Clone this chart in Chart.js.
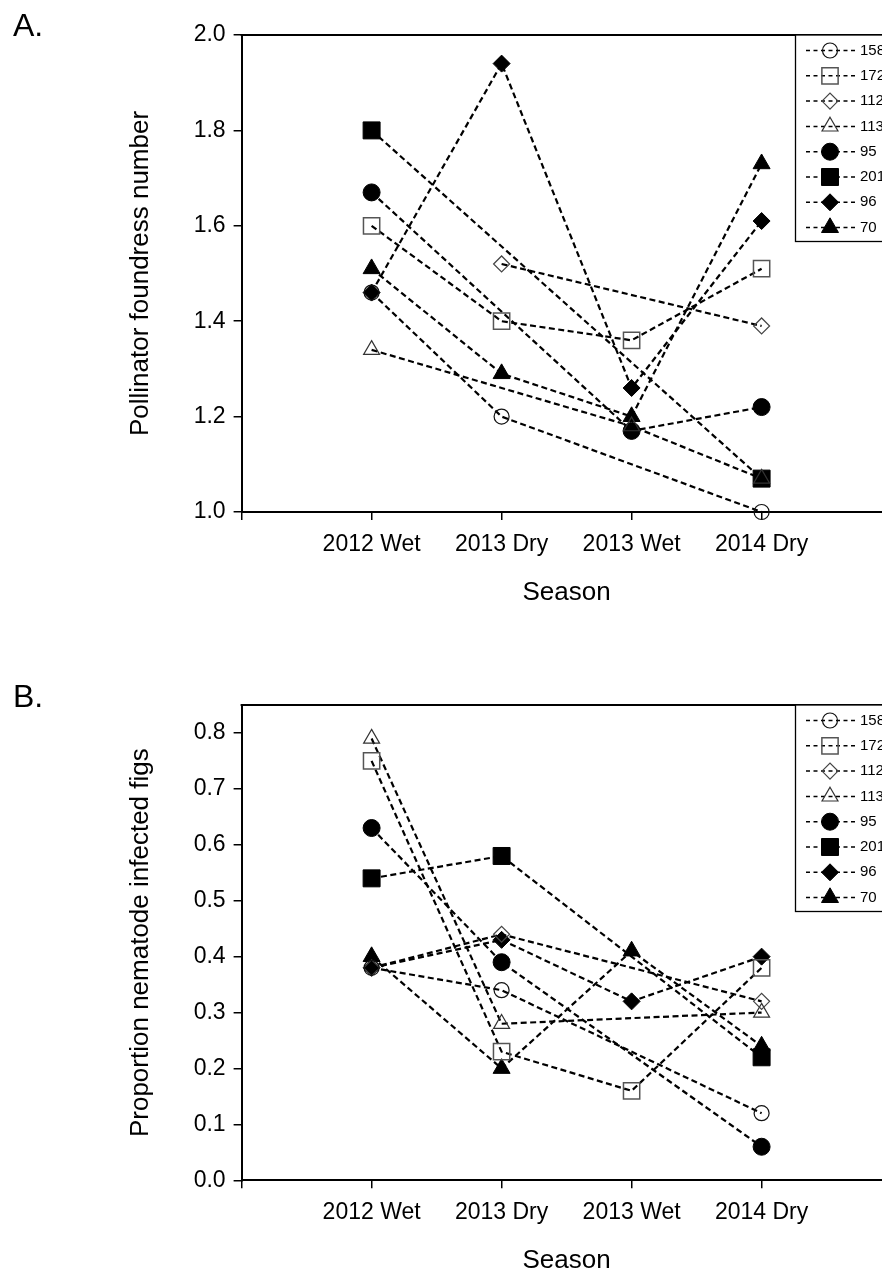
<!DOCTYPE html>
<html>
<head>
<meta charset="utf-8">
<title>Pollinator foundress number / nematode infected figs by season</title>
<script src="https://cdn.jsdelivr.net/npm/chart.js@4/dist/chart.umd.min.js"></script>
<style>
    html, body {
        margin: 0;
        padding: 0;
        background: #fff;
    }
    body {
        position: relative;
        width: 882px;
        height: 1274px;
        overflow: hidden;
        font-family: "Liberation Sans", Arial, Helvetica, sans-serif;
    }
    canvas {
        position: absolute;
        left: 0;
    }
    .panel-label {
        position: absolute;
        left: 13px;
        font-size: 32px;
        line-height: 32px;
        color: #000;
    }
</style>
</head>
<body>
<canvas id="chartA" width="920" height="670" style="top:0"></canvas>
<canvas id="chartB" width="920" height="670" style="top:670px"></canvas>
<div class="panel-label" style="top:9px">A.</div>
<div class="panel-label" style="top:680px">B.</div>

<script>
// Seasons along the x axis (placed at 1..4 on a 0..5 axis)
const seasons = ['2012 Wet', '2013 Dry', '2013 Wet', '2014 Dry'];

// Tree / population ids, legend order
const trees = ['158', '172', '112', '113', '95', '201', '96', '70'];

// A. Pollinator foundress number (null = no sample that season)
const foundress158 = [1.46, 1.20, null, 1.00];
const foundress172 = [1.60, 1.40, 1.36, 1.51];
const foundress112 = [null, 1.52, null, 1.39];
const foundress113 = [1.34, null, 1.18, 1.07];
const foundress95  = [1.67, null, 1.17, 1.22];
const foundress201 = [1.80, null, null, 1.07];
const foundress96  = [1.46, 1.94, 1.26, 1.61];
const foundress70  = [1.51, 1.29, 1.20, 1.73];

// B. Proportion nematode infected figs
const nematode158 = [0.38, 0.34, null, 0.12];
const nematode172 = [0.75, 0.23, 0.16, 0.38];
const nematode112 = [0.38, 0.44, null, 0.32];
const nematode113 = [0.79, 0.28, null, 0.30];
const nematode95  = [0.63, 0.39, null, 0.06];
const nematode201 = [0.54, 0.58, null, 0.22];
const nematode96  = [0.38, 0.43, 0.32, 0.40];
const nematode70  = [0.40, 0.20, 0.41, 0.24];

// Y tick values
const foundressTicks = { min: 1.0, max: 2.0, step: 0.2 };
const nematodeTicks = { min: 0.0, max: 0.85, step: 0.1 };

const FONT = '"Liberation Sans", Arial, Helvetica, sans-serif';
const HOLLOW = 'rgba(0,0,0,0)';

/**
 * Marker look per tree (same order as trees)
 */
const markers = [
    { style: 'circle',   radius: 7.5,  fill: HOLLOW, border: '#111', width: 1.2 },
    { style: 'rect',     radius: 11.5, fill: HOLLOW, border: '#555', width: 1.5 },
    { style: 'rectRot',  radius: 8,    fill: HOLLOW, border: '#444', width: 1.2 },
    { style: 'triangle', radius: 9.2,  fill: HOLLOW, border: '#333', width: 1.2 },
    { style: 'circle',   radius: 8.5,  fill: '#000', border: '#000', width: 1 },
    { style: 'rect',     radius: 12,   fill: '#000', border: '#000', width: 1 },
    { style: 'rectRot',  radius: 8.5,  fill: '#000', border: '#000', width: 1 },
    { style: 'triangle', radius: 9.8,  fill: '#000', border: '#000', width: 1 }
];

/**
 * Turn a season-indexed array into {x, y} points (x = 1..4)
 */
function toPoints(values) {
    return values.map((v, i) => ({ x: i + 1, y: v }));
}

/**
 * One dashed line dataset per tree
 */
function buildDatasets(seriesList) {
    return seriesList.map((values, i) => {
        const m = markers[i];
        return {
            label: trees[i],
            data: toPoints(values),
            borderColor: '#000',
            borderWidth: 2.2,
            borderDash: [6, 3.5],
            spanGaps: true,
            tension: 0,
            clip: false,
            pointStyle: m.style,
            pointRadius: m.radius,
            pointHoverRadius: m.radius,
            pointBackgroundColor: m.fill,
            pointBorderColor: m.border,
            pointBorderWidth: m.width
        };
    });
}

/**
 * Top/right frame lines + boxed legend in the upper right corner
 */
const framePlugin = {
    id: 'frameAndLegend',
    afterDatasetsDraw(chart) {
        const { ctx, chartArea } = chart;
        ctx.save();

        // frame (top + right)
        ctx.strokeStyle = '#000';
        ctx.lineWidth = 2;
        ctx.beginPath();
        ctx.moveTo(chartArea.left - 1, chartArea.top);
        ctx.lineTo(chartArea.right, chartArea.top);
        ctx.lineTo(chartArea.right, chartArea.bottom);
        ctx.stroke();

        // legend box
        const boxLeft = 795.5;
        const boxTop = chartArea.top;
        const boxW = 98;
        const boxH = 206.5;
        ctx.fillStyle = '#fff';
        ctx.fillRect(boxLeft, boxTop, boxW, boxH);
        ctx.lineWidth = 1.3;
        ctx.strokeRect(boxLeft, boxTop, boxW, boxH);

        ctx.font = '15px ' + FONT;
        ctx.textBaseline = 'middle';
        ctx.textAlign = 'left';

        chart.data.datasets.forEach((ds, i) => {
            const y = boxTop + 15.5 + i * 25.3;

            ctx.setLineDash([4, 3.5]);
            ctx.lineWidth = 1.5;
            ctx.strokeStyle = '#000';
            ctx.beginPath();
            ctx.moveTo(806, y);
            ctx.lineTo(856, y);
            ctx.stroke();
            ctx.setLineDash([]);

            ctx.fillStyle = ds.pointBackgroundColor;
            ctx.strokeStyle = ds.pointBorderColor;
            ctx.lineWidth = ds.pointBorderWidth;
            Chart.helpers.drawPoint(ctx, {
                pointStyle: ds.pointStyle,
                radius: ds.pointRadius,
                rotation: 0,
                borderWidth: ds.pointBorderWidth
            }, 830, y);

            ctx.fillStyle = '#000';
            ctx.fillText(ds.label, 860, y);
        });

        ctx.restore();
    }
};

/**
 * Build one panel
 */
function makePanel(canvasId, seriesList, yTicks, yTitle, plotBottom) {
    const canvas = document.getElementById(canvasId);
    const xHeight = canvas.height - plotBottom;

    return new Chart(canvas, {
        type: 'line',
        data: { datasets: buildDatasets(seriesList) },
        plugins: [framePlugin],
        options: {
            responsive: false,
            devicePixelRatio: 1,
            animation: false,
            events: [],
            layout: { padding: { top: 35, left: 0, right: 920 - 891.6, bottom: 0 } },
            plugins: {
                legend: { display: false },
                tooltip: { enabled: false }
            },
            scales: {
                x: {
                    type: 'linear',
                    min: 0,
                    max: 5,
                    afterFit(scale) { scale.height = xHeight; },
                    border: { display: true, color: '#000', width: 2 },
                    grid: {
                        drawOnChartArea: false,
                        drawTicks: true,
                        tickLength: 8,
                        color: '#000',
                        lineWidth: 1.5
                    },
                    ticks: {
                        stepSize: 1,
                        autoSkip: false,
                        maxRotation: 0,
                        padding: 10.7,
                        color: '#000',
                        font: { family: FONT, size: 23 },
                        callback: v => seasons[v - 1] || ''
                    },
                    title: {
                        display: true,
                        text: 'Season',
                        color: '#000',
                        font: { family: FONT, size: 26 },
                        padding: { top: 0, bottom: xHeight - 80.5 - 15.6 }
                    }
                },
                y: {
                    type: 'linear',
                    min: yTicks.min,
                    max: yTicks.max,
                    afterFit(scale) { scale.width = 241.6; },
                    border: { display: true, color: '#000', width: 2 },
                    grid: {
                        drawOnChartArea: false,
                        drawTicks: true,
                        tickLength: 8,
                        color: '#000',
                        lineWidth: 1.5
                    },
                    ticks: {
                        stepSize: yTicks.step,
                        includeBounds: false,
                        padding: 8,
                        color: '#000',
                        font: { family: FONT, size: 23 },
                        callback: v => Number(v).toFixed(1)
                    },
                    title: {
                        display: true,
                        text: yTitle,
                        color: '#000',
                        font: { family: FONT, size: 26 },
                        padding: { top: 125, bottom: 0 }
                    }
                }
            }
        }
    });
}

makePanel('chartA',
    [foundress158, foundress172, foundress112, foundress113, foundress95, foundress201, foundress96, foundress70],
    foundressTicks, 'Pollinator foundress number', 512);

makePanel('chartB',
    [nematode158, nematode172, nematode112, nematode113, nematode95, nematode201, nematode96, nematode70],
    nematodeTicks, 'Proportion nematode infected figs', 510.3);
</script>
</body>
</html>
